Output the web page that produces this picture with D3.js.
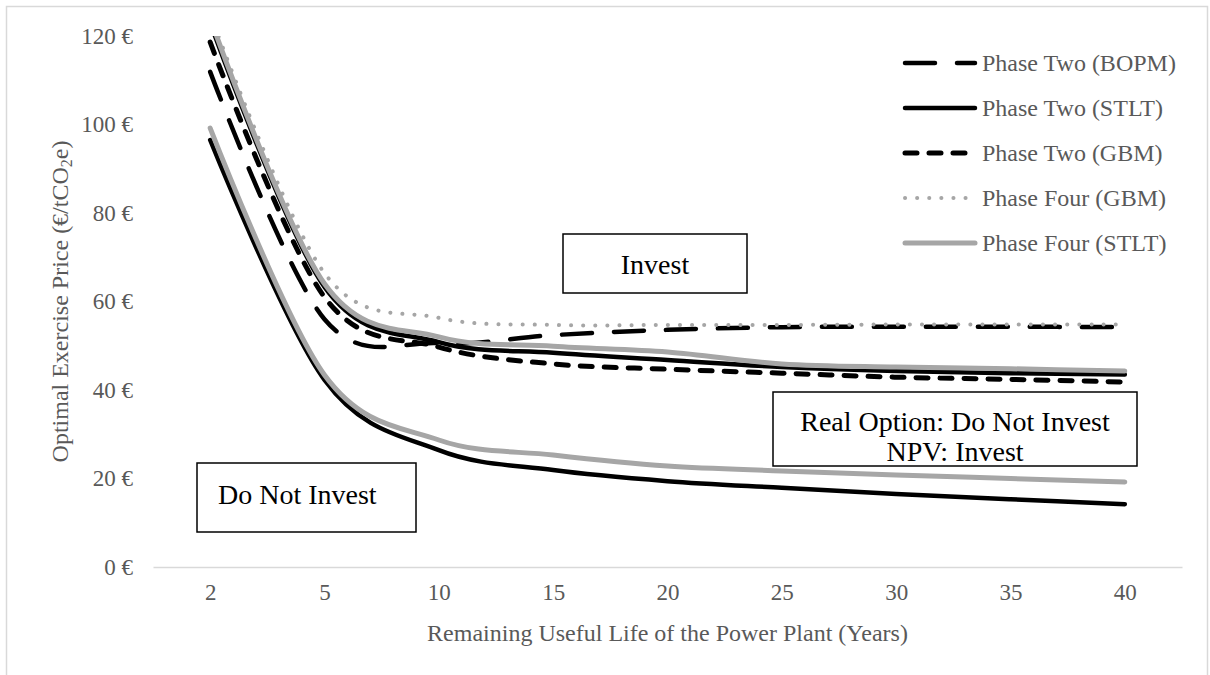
<!DOCTYPE html>
<html>
<head>
<meta charset="utf-8">
<script src="https://cdn.jsdelivr.net/npm/d3@7"></script>
<style>
  body { margin: 0; background: #fff; }
  text { font-family: "Liberation Serif", "Times New Roman", serif; }
</style>
</head>
<body>
<div id="chart"></div>
<script>
// categories (remaining useful life, years)
var years = ["2", "5", "10", "15", "20", "25", "30", "35", "40"];

// series values (EUR / tCO2e)
var p2Bopm     = [111.9, 56.0, 50.6, 52.4, 53.6, 54.2, 54.3, 54.3, 54.2];
var p2StltHigh = [123.0, 63.3, 50.8, 48.4, 46.8, 45.2, 44.3, 43.8, 43.5];
var p2StltLow  = [96.5, 42.3, 26.4, 21.9, 19.4, 17.9, 16.5, 15.3, 14.2];
var p2Gbm      = [118.6, 61.0, 49.7, 45.9, 44.7, 43.8, 42.9, 42.4, 41.8];
var p4Gbm      = [125.0, 66.4, 56.3, 54.7, 54.7, 54.7, 54.8, 54.8, 54.8];
var p4StltHigh = [124.0, 64.0, 52.0, 49.9, 48.6, 45.9, 45.2, 44.8, 44.3];
var p4StltLow  = [99.2, 43.4, 28.7, 25.3, 22.8, 21.7, 20.8, 20.0, 19.2];

var yTicks = [0, 20, 40, 60, 80, 100, 120];
var legendNames = ["Phase Two (BOPM)", "Phase Two (STLT)", "Phase Two (GBM)", "Phase Four (GBM)", "Phase Four (STLT)"];

var svgWidth = 1210;
var svgHeight = 675;
var plot = { left: 153, right: 1182, top: 36, bottom: 567 };

var styles = {
  bopm:  { stroke: "#000", width: 4.5, dash: "30 22" },
  stlt:  { stroke: "#000", width: 4.5, dash: null },
  gbm:   { stroke: "#000", width: 5, dash: "12 12" },
  p4gbm: { stroke: "#a6a6a6", width: 4, dash: "0.1 12" },
  p4stlt:{ stroke: "#a6a6a6", width: 5, dash: null }
};

var series = [
  { values: p2Bopm, style: styles.bopm },
  { values: p2StltHigh, style: styles.stlt },
  { values: p2StltLow, style: styles.stlt },
  { values: p2Gbm, style: styles.gbm },
  { values: p4Gbm, style: styles.p4gbm },
  { values: p4StltHigh, style: styles.p4stlt },
  { values: p4StltLow, style: styles.p4stlt }
];
var legendStyles = [styles.bopm, styles.stlt, styles.gbm, styles.p4gbm, styles.p4stlt];

var svg = d3.select("#chart")
  .append("svg")
  .attr("width", svgWidth)
  .attr("height", svgHeight);

// outer chart border
svg.append("rect")
  .attr("x", 6.5).attr("y", 6.5)
  .attr("width", 1201).attr("height", 700)
  .attr("fill", "none")
  .attr("stroke", "#d9d9d9")
  .attr("stroke-width", 1.5);

var x = d3.scalePoint()
  .domain(years)
  .range([plot.left, plot.right])
  .padding(0.5);

var y = d3.scaleLinear()
  .domain([0, 120])
  .range([plot.bottom, plot.top]);

// x axis
var xAxis = svg.append("g")
  .attr("transform", `translate(0, ${plot.bottom})`)
  .call(d3.axisBottom(x).tickSize(0).tickPadding(17));
xAxis.select(".domain").attr("stroke", "#d9d9d9").attr("stroke-width", 1.5);
xAxis.selectAll("text")
  .attr("font-size", "23px")
  .attr("fill", "#595959")
  .attr("font-family", "Liberation Serif");

// y axis
var yAxis = svg.append("g")
  .attr("transform", `translate(${plot.left - 20}, 0)`)
  .call(d3.axisLeft(y).tickValues(yTicks).tickSize(0).tickPadding(0).tickFormat(d => d + " €"));
yAxis.select(".domain").remove();
yAxis.selectAll("text")
  .attr("font-size", "23px")
  .attr("fill", "#595959")
  .attr("font-family", "Liberation Serif");

// clip lines to the plot area
svg.append("clipPath").attr("id", "plotClip")
  .append("rect")
  .attr("x", plot.left).attr("y", plot.top)
  .attr("width", plot.right - plot.left)
  .attr("height", plot.bottom - plot.top);

var line = d3.line()
  .x((d, i) => x(years[i]))
  .y(d => y(d))
  .curve(d3.curveCardinal.tension(0));

var linesGroup = svg.append("g").attr("clip-path", "url(#plotClip)");
series.forEach(function(s) {
  linesGroup.append("path")
    .attr("d", line(s.values))
    .attr("fill", "none")
    .attr("stroke", s.style.stroke)
    .attr("stroke-width", s.style.width)
    .attr("stroke-linecap", "round")
    .attr("stroke-linejoin", "round")
    .attr("stroke-dasharray", s.style.dash);
});

// annotation boxes
function box(x0, y0, w, h) {
  svg.append("rect")
    .attr("x", x0).attr("y", y0)
    .attr("width", w).attr("height", h)
    .attr("fill", "#fff")
    .attr("stroke", "#000")
    .attr("stroke-width", 1.5);
}
box(563, 234, 184, 59);
svg.append("text")
  .attr("x", 655).attr("y", 264)
  .attr("text-anchor", "middle").attr("dominant-baseline", "central")
  .attr("font-size", "28px").attr("fill", "#000")
  .text("Invest");

box(773, 392, 364, 74);
svg.append("text")
  .attr("x", 955).attr("y", 421)
  .attr("text-anchor", "middle").attr("dominant-baseline", "central")
  .attr("font-size", "28px").attr("fill", "#000")
  .text("Real Option: Do Not Invest");
svg.append("text")
  .attr("x", 955).attr("y", 451)
  .attr("text-anchor", "middle").attr("dominant-baseline", "central")
  .attr("font-size", "28px").attr("fill", "#000")
  .text("NPV: Invest");

box(197, 463, 219, 69);
svg.append("text")
  .attr("x", 218).attr("y", 494)
  .attr("dominant-baseline", "central")
  .attr("font-size", "28px").attr("fill", "#000")
  .text("Do Not Invest");

// axis titles
svg.append("text")
  .attr("transform", `translate(60, ${(plot.top + plot.bottom) / 2}) rotate(-90)`)
  .attr("text-anchor", "middle").attr("dominant-baseline", "central")
  .attr("font-size", "24px").attr("fill", "#595959")
  .html("Optimal Exercise Price (€/tCO<tspan font-size='16px' dy='6'>2</tspan><tspan dy='-6'>e)</tspan>");

svg.append("text")
  .attr("x", (plot.left + plot.right) / 2).attr("y", 633)
  .attr("text-anchor", "middle").attr("dominant-baseline", "central")
  .attr("font-size", "24px").attr("fill", "#595959")
  .text("Remaining Useful Life of the Power Plant (Years)");

// legend
var legend = svg.append("g");
legendNames.forEach(function(name, i) {
  var ly = 63 + i * 45;
  var st = legendStyles[i];
  legend.append("line")
    .attr("x1", 905).attr("x2", 975)
    .attr("y1", ly).attr("y2", ly)
    .attr("stroke", st.stroke)
    .attr("stroke-width", st.width)
    .attr("stroke-linecap", "round")
    .attr("stroke-dasharray", st.dash);
  legend.append("text")
    .attr("x", 982).attr("y", ly)
    .attr("dominant-baseline", "central")
    .attr("font-size", "24px").attr("fill", "#595959")
    .text(name);
});
</script>
</body>
</html>
